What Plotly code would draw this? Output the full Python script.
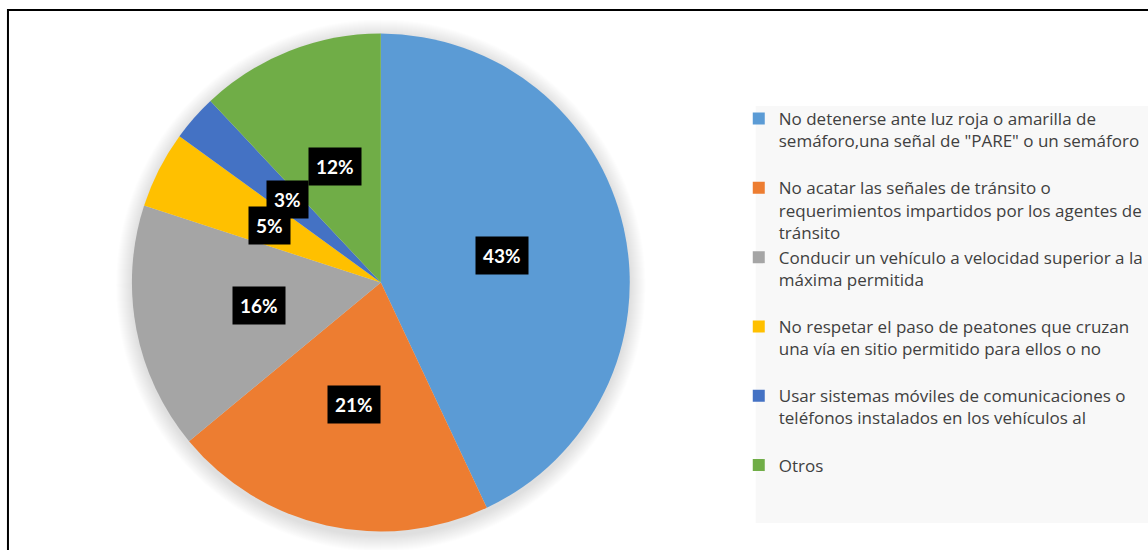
import math
import plotly.graph_objects as go

# Infracciones de tránsito: participación por tipo
categories = [
    'No detenerse ante luz roja o amarilla de<br>semáforo,una señal de "PARE" o un semáforo<br> ',
    "No acatar las señales de tránsito o<br>requerimientos impartidos por los agentes de<br>tránsito",
    "Conducir un vehículo a velocidad superior a la<br>máxima permitida<br> ",
    "No respetar el paso de peatones que cruzan<br>una vía en sitio permitido para ellos o no<br> ",
    "Usar sistemas móviles de comunicaciones o<br>teléfonos instalados en los vehículos al<br> ",
    "Otros",
]
percentages = [43, 21, 16, 5, 3, 12]
colors = ["#5B9BD5", "#ED7D31", "#A5A5A5", "#FFC000", "#4472C4", "#70AD47"]

W, H = 1148, 550
# pie geometry in pixels (centre and radius)
CX, CY, R = 382.5, 282.5, 250.0


def px_x(x):
    return x / W


def px_y(y):
    return 1 - y / H


fig = go.Figure()
fig.add_trace(go.Pie(
    labels=categories,
    values=percentages,
    marker=dict(colors=colors, line=dict(width=0)),
    sort=False,
    direction="clockwise",
    rotation=0,
    textinfo="none",
    hoverinfo="label+percent",
    domain=dict(x=[px_x(CX - R), px_x(CX + R)], y=[px_y(CY + R), px_y(CY - R)]),
))

# percentage labels on black boxes, placed at half radius along each slice's mid-angle
annotations = []
total = sum(percentages)
start = 0.0
for v in percentages:
    mid = (start + v / 2) / total * 2 * math.pi
    start += v
    lx = CX + 0.5 * R * math.sin(mid)
    ly = CY - 0.5 * R * math.cos(mid)
    annotations.append(dict(
        x=px_x(lx), y=px_y(ly), xref="paper", yref="paper",
        text=f"<b>{v}%</b>", showarrow=False,
        font=dict(family="Lato", size=19, color="white"),
        bgcolor="black", borderpad=7,
        xanchor="center", yanchor="middle",
    ))

shapes = []
# soft shadow around the pie
for k in range(16, 0, -1):
    rr = R + k * 1.0
    shapes.append(dict(
        type="circle", xref="paper", yref="paper", layer="below",
        x0=px_x(CX - rr), x1=px_x(CX + rr),
        y0=px_y(CY + 3 + rr), y1=px_y(CY + 3 - rr),
        fillcolor="rgba(0,0,0,0.009)", line=dict(width=0),
    ))
# legend panel
shapes.append(dict(
    type="rect", xref="paper", yref="paper", layer="below",
    x0=px_x(759), x1=px_x(1160), y0=px_y(523), y1=px_y(106),
    fillcolor="#f8f8f8", line=dict(width=0),
))
# chart frame
shapes.append(dict(
    type="rect", xref="paper", yref="paper", layer="above",
    x0=px_x(8), x1=px_x(1160), y0=px_y(562), y1=px_y(10),
    fillcolor="rgba(0,0,0,0)", line=dict(color="black", width=2),
))

fig.update_layout(
    width=W, height=H,
    margin=dict(l=0, r=0, t=0, b=0),
    paper_bgcolor="white",
    plot_bgcolor="white",
    showlegend=True,
    legend=dict(
        x=px_x(742), y=px_y(101), xanchor="left", yanchor="top",
        bgcolor="rgba(0,0,0,0)",
        font=dict(family="Open Sans", size=17, color="#404040"),
        valign="top",
        traceorder="normal",
    ),
    annotations=annotations,
    shapes=shapes,
)

fig.write_html("out.html")
